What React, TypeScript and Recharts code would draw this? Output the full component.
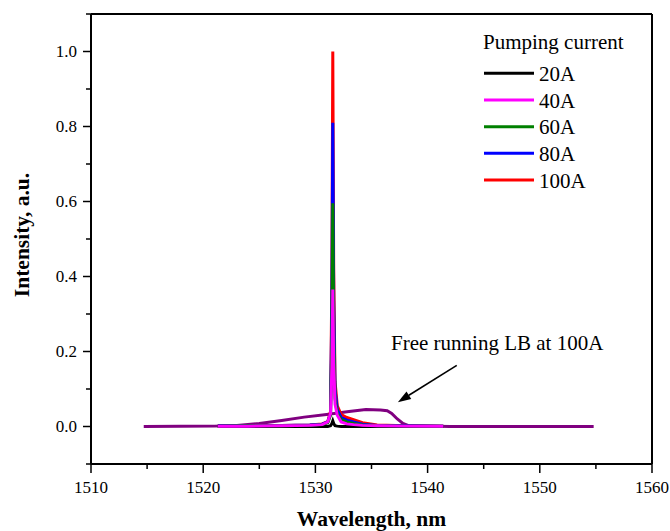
import React from "react";
import { LineChart, Line, XAxis, YAxis, ReferenceLine, Label } from "recharts";

// locked spectra (pumping current series)
const lockedWavelength = [
  1521.3, 1524.0, 1527.0, 1529.5, 1530.6, 1531.1, 1531.35, 1531.47, 1531.55, 1531.63,
  1531.75, 1531.95, 1532.3, 1532.8, 1533.4, 1534.2, 1535.5, 1538.0, 1541.4,
];
const current20 = [0, 0, 0, 0, 0, 0, 0.002, 0.008, 0.015, 0.008, 0.002, 0.001, 0, 0, 0, 0, 0, 0, 0];
const current40 = [0.001, 0.001, 0.002, 0.003, 0.005, 0.012, 0.035, 0.16, 0.365, 0.17, 0.06, 0.03, 0.012, 0.007, 0.005, 0.003, 0.002, 0.001, 0.001];
const current60 = [0.001, 0.002, 0.002, 0.003, 0.005, 0.01, 0.03, 0.24, 0.595, 0.25, 0.075, 0.035, 0.018, 0.012, 0.008, 0.004, 0.002, 0.001, 0.001];
const current80 = [0.002, 0.002, 0.003, 0.004, 0.006, 0.012, 0.035, 0.33, 0.81, 0.34, 0.1, 0.045, 0.024, 0.017, 0.012, 0.006, 0.003, 0.002, 0.001];
const current100 = [0.002, 0.002, 0.003, 0.004, 0.007, 0.013, 0.04, 0.4, 1.0, 0.42, 0.12, 0.055, 0.032, 0.024, 0.018, 0.01, 0.004, 0.002, 0.001];

// free running laser bar at 100A
const freeWavelength = [
  1514.7, 1518, 1521, 1523, 1525, 1527, 1529, 1531, 1533, 1534.5, 1535.8, 1536.4,
  1536.8, 1537.3, 1537.8, 1538.3, 1542, 1548, 1554.8,
];
const freeIntensity = [0, 0.0005, 0.001, 0.003, 0.008, 0.016, 0.025, 0.032, 0.04, 0.045, 0.044, 0.042, 0.035, 0.02, 0.008, 0.002, 0, 0, 0];

const xTicks = [1510, 1515, 1520, 1525, 1530, 1535, 1540, 1545, 1550, 1555, 1560];
const yTicks = [-0.1, 0, 0.1, 0.2, 0.3, 0.4, 0.5, 0.6, 0.7, 0.8, 0.9, 1.0, 1.1];

const legendTitle = "Pumping current";
const seriesNames = ["20A", "40A", "60A", "80A", "100A"];
const seriesColors = ["#000000", "#ff00ff", "#008000", "#0000ff", "#ff0000"];
const seriesValues = [current20, current40, current60, current80, current100];

const annotationText = "Free running LB at 100A";
const arrowFrom = { x: 1542.6, y: 0.163 };
const arrowTo = { x: 1537.35, y: 0.065 };

const FONT = '"Times New Roman", "Liberation Serif", Times, serif';

const toPoints = (xs: number[], ys: number[]) => xs.map((x, i) => ({ x, y: ys[i] }));

const XTick = (props: any) => {
  const { x, y, payload } = props;
  const major = payload.value % 10 === 0;
  return (
    <g>
      <line x1={x} y1={y} x2={x} y2={y + (major ? 9 : 5)} stroke="#000" strokeWidth={1.5} />
      {major && (
        <text x={x} y={y + 29} textAnchor="middle" style={{ fontFamily: FONT, fontSize: 17 }} fill="#000">
          {payload.value}
        </text>
      )}
    </g>
  );
};

const YTick = (props: any) => {
  const { x, y, payload } = props;
  const major = Math.round(payload.value * 10) % 2 === 0;
  return (
    <g>
      <line x1={x} y1={y} x2={x - (major ? 8 : 5)} y2={y} stroke="#000" strokeWidth={1.5} />
      {major && (
        <text x={x - 14} y={y + 5.5} textAnchor="end" style={{ fontFamily: FONT, fontSize: 17 }} fill="#000">
          {payload.value.toFixed(1)}
        </text>
      )}
    </g>
  );
};

const Arrow = (props: any) => {
  const { x1, y1, x2, y2 } = props;
  const ang = Math.atan2(y2 - y1, x2 - x1);
  const len = 13;
  const half = 4.5;
  const bx = x2 - len * Math.cos(ang);
  const by = y2 - len * Math.sin(ang);
  const px = -Math.sin(ang) * half;
  const py = Math.cos(ang) * half;
  return (
    <g>
      <line x1={x1} y1={y1} x2={bx} y2={by} stroke="#000" strokeWidth={1.6} />
      <polygon points={`${x2},${y2} ${bx + px},${by + py} ${bx - px},${by - py}`} fill="#000" />
    </g>
  );
};

export default function App() {
  const legendRowY = [73.3, 100, 126.7, 153.3, 180];
  const textStyle = { fontFamily: FONT, fontSize: 21 };
  return (
    <div style={{ position: "absolute", left: 0, top: 0, width: 670, height: 531, background: "#fff" }}>
      <LineChart width={670} height={531} margin={{ top: 10, right: 8, left: 31, bottom: 27 }}>
        <XAxis
          dataKey="x"
          type="number"
          domain={[1510, 1560]}
          ticks={xTicks}
          interval={0}
          allowDataOverflow
          tickSize={0}
          tickMargin={0}
          tickLine={false}
          tick={<XTick />}
          height={40}
          axisLine={{ stroke: "#000", strokeWidth: 2 }}
        >
          <Label
            content={(p: any) => {
              const vb = p.viewBox;
              return (
                <text
                  x={vb.x + vb.width / 2}
                  y={vb.y + 62}
                  textAnchor="middle"
                  style={{ fontFamily: FONT, fontSize: 21.5, fontWeight: "bold" }}
                  fill="#000"
                >
                  Wavelength, nm
                </text>
              );
            }}
          />
        </XAxis>
        <XAxis
          xAxisId="top"
          orientation="top"
          type="number"
          domain={[1510, 1560]}
          ticks={xTicks}
          interval={0}
          tick={false}
          tickSize={3}
          tickLine={{ stroke: "#000", strokeWidth: 1.2 }}
          height={4}
          axisLine={{ stroke: "#000", strokeWidth: 2 }}
        />
        <YAxis
          type="number"
          domain={[-0.1, 1.1]}
          ticks={yTicks}
          interval={0}
          allowDataOverflow
          tickSize={0}
          tickMargin={0}
          tickLine={false}
          tick={<YTick />}
          width={60}
          axisLine={{ stroke: "#000", strokeWidth: 2 }}
        >
          <Label
            content={(p: any) => {
              const vb = p.viewBox;
              const cx = vb.x - 2;
              const cy = vb.y + vb.height / 2 - 4;
              return (
                <text
                  x={cx}
                  y={cy}
                  transform={`rotate(-90 ${cx} ${cy})`}
                  textAnchor="middle"
                  style={{ fontFamily: FONT, fontSize: 21.5, fontWeight: "bold" }}
                  fill="#000"
                >
                  Intensity, a.u.
                </text>
              );
            }}
          />
        </YAxis>
        <YAxis
          yAxisId="right"
          orientation="right"
          type="number"
          domain={[-0.1, 1.1]}
          ticks={yTicks}
          interval={0}
          tick={false}
          tickSize={3}
          tickLine={{ stroke: "#000", strokeWidth: 1.2 }}
          width={10}
          axisLine={{ stroke: "#000", strokeWidth: 2 }}
        />
        <Line
          data={toPoints(freeWavelength, freeIntensity)}
          dataKey="y"
          type="linear"
          stroke="#800080"
          strokeWidth={3}
          dot={false}
          isAnimationActive={false}
        />
        {[0, 4, 3, 2, 1].map((i) => (
          <Line
            key={seriesNames[i]}
            data={toPoints(lockedWavelength, seriesValues[i])}
            dataKey="y"
            name={seriesNames[i]}
            type="linear"
            stroke={seriesColors[i]}
            strokeWidth={3}
            dot={false}
            isAnimationActive={false}
          />
        ))}
        <ReferenceLine
          segment={[arrowFrom, arrowTo]}
          stroke="#000"
          shape={(p: any) => <Arrow {...p} />}
        />
      </LineChart>
      <svg
        width={670}
        height={531}
        style={{ position: "absolute", left: 0, top: 0, pointerEvents: "none" }}
      >
        <text x={483} y={49} style={textStyle} fill="#000">
          {legendTitle}
        </text>
        {seriesNames.map((name, i) => (
          <g key={name}>
            <line x1={484} y1={legendRowY[i]} x2={534} y2={legendRowY[i]} stroke={seriesColors[i]} strokeWidth={3} />
            <text x={539} y={legendRowY[i] + 7.5} style={textStyle} fill="#000">
              {name}
            </text>
          </g>
        ))}
        <text x={391} y={350} style={textStyle} fill="#000">
          {annotationText}
        </text>
      </svg>
    </div>
  );
}
